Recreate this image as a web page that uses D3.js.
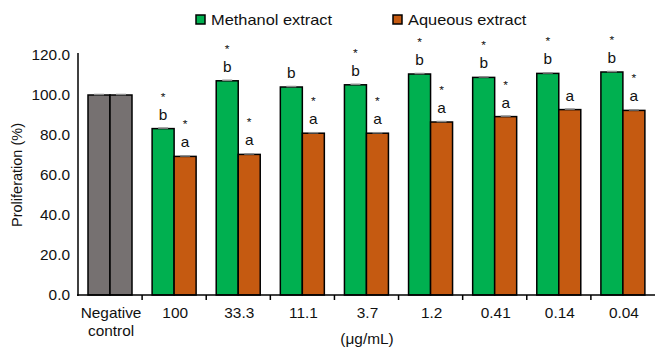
<!DOCTYPE html>
<html>
<head>
<meta charset="utf-8">
<script src="https://cdn.jsdelivr.net/npm/d3@7"></script>
<style>
  body { margin: 0; background: #fff; }
  text { font-family: "Liberation Sans", Arial, sans-serif; fill: #111; }
</style>
</head>
<body>
<div id="chart"></div>
<script>
// chart data
var categories = ["Negative control", "100", "33.3", "11.1", "3.7", "1.2", "0.41", "0.14", "0.04"]
var methanol = [100, 83.2, 107.1, 104.0, 105.1, 110.5, 108.8, 110.8, 111.5]
var aqueous = [100, 69.3, 70.3, 80.9, 80.9, 86.5, 89.2, 92.7, 92.3]
var methanolMarks = [[], ["*", "b"], ["*", "b"], ["b"], ["*", "b"], ["*", "b"], ["*", "b"], ["*", "b"], ["*", "b"]]
var aqueousMarks = [[], ["*", "a"], ["*", "a"], ["*", "a"], ["*", "a"], ["*", "a"], ["*", "a"], ["a"], ["*", "a"]]
var yTicks = [0, 20, 40, 60, 80, 100, 120]

var width = 655
    height = 348
    sx = 1.1   // text in the original looks a bit wide

var svg = d3.select("#chart")
  .append("svg")
    .attr("width", width)
    .attr("height", height)

// helper: text placed by transform so it can be stretched
function place(x, y) { return "translate(" + x + "," + y + ") scale(" + sx + ",1)" }

// scales
var x0 = d3.scaleBand()
  .domain(categories)
  .range([78, 655])
  .padding(0)

var x1 = d3.scaleBand()
  .domain(["methanol", "aqueous"])
  .range([10, 54])

var y = d3.scaleLinear()
  .domain([0, 120])
  .range([295, 55])

// y axis: line and labels only
svg.append("line")
  .attr("x1", 78).attr("x2", 78)
  .attr("y1", 53).attr("y2", 296)
  .attr("stroke", "#000")
  .attr("stroke-width", 1.5)

svg.selectAll("ylab")
  .data(yTicks)
  .enter()
  .append("text")
    .attr("transform", function(d) { return place(70, y(d)) })
    .attr("dy", "0.36em")
    .attr("text-anchor", "end")
    .style("font-size", "14px")
    .text(function(d) { return d.toFixed(1) })

svg.append("text")
  .attr("transform", "translate(22," + y(60) + ") rotate(-90)")
  .attr("text-anchor", "middle")
  .style("font-size", "14.5px")
  .text("Proliferation (%)")

// bars
var series = [
  {key: "methanol", values: methanol, marks: methanolMarks, color: "#00b050"},
  {key: "aqueous", values: aqueous, marks: aqueousMarks, color: "#c55a11"}
]

var rows = []
categories.forEach(function(c, i) {
  series.forEach(function(s) {
    rows.push({cat: c, key: s.key, value: s.values[i], marks: s.marks[i],
               color: i == 0 ? "#767171" : s.color})
  })
})

var bars = svg.selectAll("bars")
  .data(rows)
  .enter()
  .append("g")
    .attr("transform", function(d) { return "translate(" + (x0(d.cat) + x1(d.key)) + ",0)" })

bars.append("rect")
  .attr("x", 0)
  .attr("y", function(d) { return y(d.value) })
  .attr("width", x1.bandwidth())
  .attr("height", function(d) { return y(0) - y(d.value) })
  .attr("fill", function(d) { return d.color })
  .attr("stroke", "#000")
  .attr("stroke-width", 1.5)

// error caps
bars.append("line")
  .attr("x1", x1.bandwidth() / 2 - 5)
  .attr("x2", x1.bandwidth() / 2 + 5)
  .attr("y1", function(d) { return y(d.value) - 0.5 })
  .attr("y2", function(d) { return y(d.value) - 0.5 })
  .attr("stroke", "#8c8c8c")
  .attr("stroke-width", 1.5)

// significance letters
bars.each(function(d) {
  var g = d3.select(this)
  d.marks.forEach(function(m) {
    g.append("text")
      .attr("transform", place(x1.bandwidth() / 2, y(d.value) - (m == "*" ? 28 : 9)))
      .attr("text-anchor", "middle")
      .style("font-size", m == "*" ? "11px" : "14px")
      .text(m)
  })
})

// x axis
svg.append("line")
  .attr("x1", 77).attr("x2", 655)
  .attr("y1", y(0)).attr("y2", y(0))
  .attr("stroke", "#000")
  .attr("stroke-width", 1.5)

svg.selectAll("xtick")
  .data(categories.slice(1))
  .enter()
  .append("line")
    .attr("x1", function(d) { return x0(d) })
    .attr("x2", function(d) { return x0(d) })
    .attr("y1", y(0))
    .attr("y2", y(0) + 5)
    .attr("stroke", "#000")
    .attr("stroke-width", 1.5)

svg.selectAll("xlab")
  .data(categories)
  .enter()
  .append("text")
    .attr("transform", function(d) { return place(x0(d) + x0.bandwidth() / 2 + 1, 318) })
    .attr("text-anchor", "middle")
    .style("font-size", "14px")
    .each(function(d) {
      var words = d == "Negative control" ? ["Negative", "control"] : [d]
      var t = d3.select(this)
      words.forEach(function(w, k) {
        t.append("tspan")
          .attr("x", 0)
          .attr("dy", k == 0 ? 0 : 18)
          .text(w)
      })
    })

svg.append("text")
  .attr("transform", place(367, 344))
  .attr("text-anchor", "middle")
  .style("font-size", "14px")
  .text("(μg/mL)")

// legend
var legend = [
  {label: "Methanol extract", color: "#00b050", x: 196},
  {label: "Aqueous extract", color: "#c55a11", x: 393}
]

var lg = svg.selectAll("legend")
  .data(legend)
  .enter()
  .append("g")
    .attr("transform", function(d) { return "translate(" + d.x + ",15)" })

lg.append("rect")
  .attr("width", 9).attr("height", 9)
  .attr("fill", function(d) { return d.color })
  .attr("stroke", "#000")
  .attr("stroke-width", 1.5)

lg.append("text")
  .attr("transform", "translate(15,10) scale(1.13,1)")
  .style("font-size", "14.5px")
  .text(function(d) { return d.label })
</script>
</body>
</html>
